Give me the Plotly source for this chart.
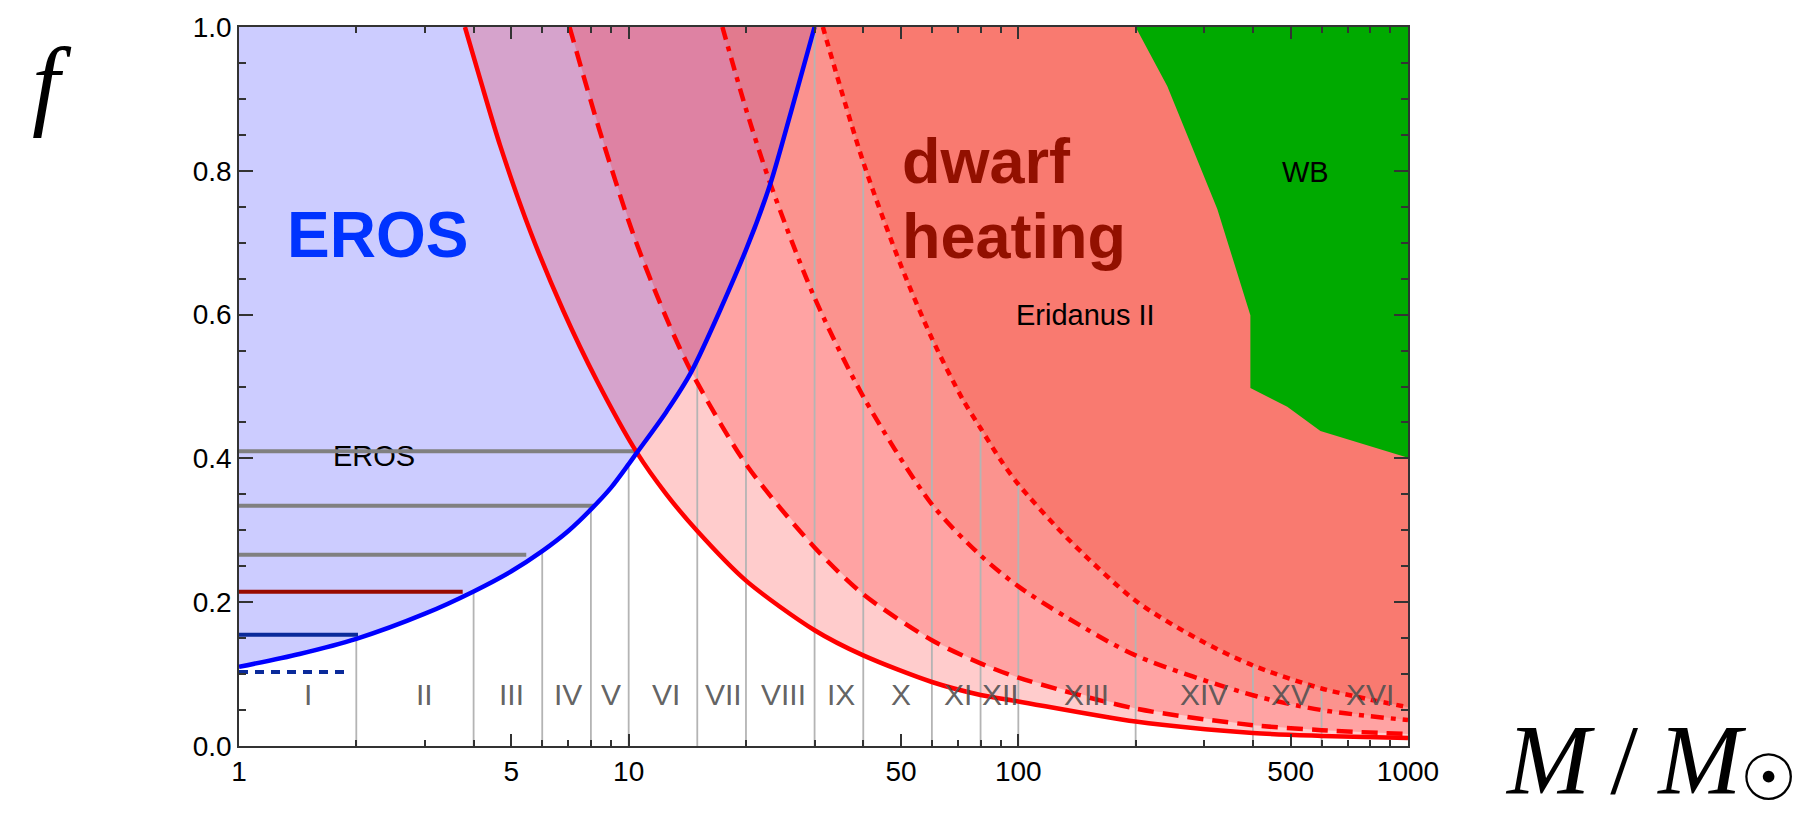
import numpy as np
import plotly.graph_objects as go

# ---------------- data ----------------
# EROS bound (blue curve)
eros_M = [1, 1.43, 2, 3, 4, 5, 6, 7, 8, 9, 10, 10.5, 12.5, 14.5, 20, 23.1, 26.1, 30]
eros_f = [0.11, 0.128, 0.149, 0.184, 0.215, 0.243, 0.271, 0.299, 0.329, 0.359, 0.392, 0.408,
          0.465, 0.521, 0.69, 0.782, 0.882, 1.0]

# dwarf heating bounds (red curves)
solid_M = [3.8, 4.16, 4.68, 5.59, 6.8, 8.29, 10.5, 12.5, 15, 20, 30, 40, 60, 80, 100, 200, 400, 600, 1000]
solid_f = [1.0, 0.927, 0.835, 0.716, 0.605, 0.508, 0.408, 0.350, 0.299, 0.23, 0.161, 0.126, 0.089,
           0.071, 0.062, 0.034, 0.018, 0.014, 0.011]

dashed_M = [7.05, 8.4, 10.3, 12.5, 14.5, 20, 30, 40, 60, 80, 100, 200, 400, 600, 1000]
dashed_f = [1.0, 0.858, 0.71, 0.595, 0.52, 0.392, 0.276, 0.211, 0.147, 0.115, 0.095, 0.052, 0.029,
            0.022, 0.0166]

dashdot_M = [17.4, 20.1, 23.1, 29.8, 40, 60, 80, 100, 133, 200, 400, 600, 1000]
dashdot_f = [1.0, 0.882, 0.782, 0.627, 0.486, 0.336, 0.265, 0.222, 0.179, 0.126, 0.0706, 0.050, 0.036]

dotted_M = [31.5, 40, 50, 60, 72, 80, 90, 100, 133, 200, 293, 400, 600, 1000]
dotted_f = [1.0, 0.812, 0.668, 0.567, 0.482, 0.442, 0.398, 0.364, 0.29, 0.202, 0.147, 0.112, 0.080, 0.054]

# wide binaries (green region boundary)
wb_M = [200, 241, 274, 324, 394, 394, 490, 596, 1000]
wb_f = [1.0, 0.918, 0.844, 0.747, 0.599, 0.498, 0.472, 0.438, 0.401]

# mass bins
div_M = [2, 4, 6, 8, 10, 15, 20, 30, 40, 60, 80, 100, 200, 400, 600]
div_top = [0.149, 0.215, 0.271, 0.329, 0.392, 0.537, 0.69, 1.0, 0.812, 0.567, 0.442, 0.364, 0.202, 0.112, 0.080]
sec_labels = ['I', 'II', 'III', 'IV', 'V', 'VI', 'VII', 'VIII', 'IX', 'X', 'XI', 'XII', 'XIII', 'XIV', 'XV', 'XVI']
sec_M = [1.5, 3, 5, 7, 9, 12.5, 17.5, 25, 35, 50, 70, 90, 150, 300, 500, 800]

# horizontal EROS-bin limits
hl_f = [0.41, 0.334, 0.266, 0.2147, 0.1547, 0.103]
hl_Mmax = [10.4, 8.2, 5.46, 3.75, 2.02, 1.93]
hl_color = ['#808080', '#808080', '#808080', '#990a00', '#0a2a9a', '#0a2a9a']
hl_dash = ['solid', 'solid', 'solid', 'solid', 'solid', '9px,7px']

x_major = [1, 5, 10, 50, 100, 500, 1000]
x_major_text = ['1', '5', '10', '50', '100', '500', '1000']
x_minor = [2, 3, 4, 6, 7, 8, 9, 20, 30, 40, 60, 70, 80, 90, 200, 300, 400, 600, 700, 800, 900]
y_major = [0, 0.2, 0.4, 0.6, 0.8, 1.0]
y_major_text = ['0.0', '0.2', '0.4', '0.6', '0.8', '1.0']

# ---------------- figure ----------------
fig = go.Figure()


def region(xs, ys, color):
    fig.add_trace(go.Scatter(x=xs, y=ys, mode='lines', fill='toself', fillcolor=color,
                             line=dict(width=0), hoverinfo='skip'))


# EROS excluded region
region(eros_M + [1], eros_f + [1.0], '#CCCCFF')
# dwarf heating regions
region(solid_M + [1000], solid_f + [1.0], 'rgba(255,0,0,0.2)')
region(dashed_M + [1000], dashed_f + [1.0], 'rgba(255,0,0,0.2)')
region(dashdot_M + [1000], dashdot_f + [1.0], 'rgba(240,100,80,0.25)')
region(dotted_M + [1000], dotted_f + [1.0], 'rgba(248,85,67,0.4)')
# wide binaries
region(wb_M + [1000, 200], wb_f + [1.0, 1.0], '#00AA00')

# small EROS label (below the gray line)
fig.add_trace(go.Scatter(x=[2.222], y=[0.3996], mode='text', text=['EROS'],
                         textfont=dict(family='Liberation Sans, Arial', size=29, color='black'),
                         hoverinfo='skip'))

# bin dividers
vx, vy = [], []
for m, t in zip(div_M, div_top):
    vx += [m, m, None]
    vy += [0, t, None]
fig.add_trace(go.Scatter(x=vx, y=vy, mode='lines', line=dict(color='#B4B4B4', width=1.8),
                         hoverinfo='skip'))

# horizontal limits
for f, mm, c, d in zip(hl_f, hl_Mmax, hl_color, hl_dash):
    fig.add_trace(go.Scatter(x=[1, mm], y=[f, f], mode='lines',
                             line=dict(color=c, width=4, dash=d), hoverinfo='skip'))

# red curves
for xs, ys, d in [(solid_M, solid_f, 'solid'), (dashed_M, dashed_f, '16px,9px'),
                  (dashdot_M, dashdot_f, '13px,7px,5px,7px'), (dotted_M, dotted_f, '7px,6px')]:
    fig.add_trace(go.Scatter(x=xs, y=ys, mode='lines',
                             line=dict(color='#FF0000', width=4.5, dash=d, shape='spline', smoothing=0.8),
                             hoverinfo='skip'))

# blue curve
fig.add_trace(go.Scatter(x=eros_M, y=eros_f, mode='lines',
                         line=dict(color='#0000FF', width=4.5, shape='spline', smoothing=0.8),
                         hoverinfo='skip'))

# ---------------- text ----------------
ann = []
for lab, m in zip(sec_labels, sec_M):
    ann.append(dict(x=np.log10(m), y=0.072, xref='x', yref='y', text=lab, showarrow=False,
                    font=dict(family='Liberation Sans, Arial', size=30, color='rgba(80,80,80,0.9)')))

ann.append(dict(x=np.log10(2.268), y=0.7105, xref='x', yref='y', text='<b>EROS</b>', showarrow=False,
                font=dict(family='Liberation Sans, Arial', size=64, color='#0033FF')))
ann.append(dict(x=np.log10(49.8), y=0.813, xref='x', yref='y', text='<b>dwarf</b>', showarrow=False,
                xanchor='left', font=dict(family='Liberation Sans, Arial', size=63, color='#921000')))
ann.append(dict(x=np.log10(49.8), y=0.709, xref='x', yref='y', text='<b>heating</b>', showarrow=False,
                xanchor='left', font=dict(family='Liberation Sans, Arial', size=63, color='#921000')))
ann.append(dict(x=np.log10(148.6), y=0.599, xref='x', yref='y', text='Eridanus II', showarrow=False,
                font=dict(family='Liberation Sans, Arial', size=29, color='black')))
ann.append(dict(x=np.log10(545.6), y=0.799, xref='x', yref='y', text='WB', showarrow=False,
                font=dict(family='Liberation Sans, Arial', size=29, color='black')))

# axis labels
ann.append(dict(x=-0.1788, y=1.002, xref='paper', yref='paper', yanchor='top', text='<i>f</i>',
                showarrow=False,
                font=dict(family='Liberation Serif, Times New Roman, serif', size=100, color='black')))
ann.append(dict(x=1.0813, y=-0.0983, xref='paper', yref='paper', xanchor='left', yanchor='bottom',
                text='<i>M</i>\u2009/\u2009<i>M</i>', showarrow=False,
                font=dict(family='Liberation Serif, Times New Roman, serif', size=100, color='black')))
ann.append(dict(x=1.2823, y=-0.0983, xref='paper', yref='paper', xanchor='left', yanchor='bottom',
                text='\u2609', showarrow=False,
                font=dict(family='DejaVu Sans', size=64, color='black')))

axis_common = dict(showgrid=False, zeroline=False, showline=True, linecolor='#333333', linewidth=1.5,
                   mirror='ticks', ticks='inside', tickcolor='#333333', tickwidth=1.5,
                   tickfont=dict(family='Liberation Sans, Arial', size=28, color='black'))

fig.update_layout(
    width=1799, height=817,
    margin=dict(l=239, r=391, t=24, b=71),
    plot_bgcolor='white', paper_bgcolor='white',
    showlegend=False,
    annotations=ann,
    xaxis=dict(type='log', range=[0, 3], tickmode='array', tickvals=x_major, ticktext=x_major_text,
               ticklen=12, minor=dict(ticks='inside', ticklen=6, tickmode='array', tickvals=x_minor,
                                      tickcolor='#333333', tickwidth=1.5),
               **axis_common),
    yaxis=dict(range=[0, 1], tickmode='array', tickvals=y_major, ticktext=y_major_text,
               ticklen=14, minor=dict(ticks='inside', ticklen=7, dtick=0.05,
                                      tickcolor='#333333', tickwidth=1.5),
               **axis_common),
)

fig.write_html('out.html')
